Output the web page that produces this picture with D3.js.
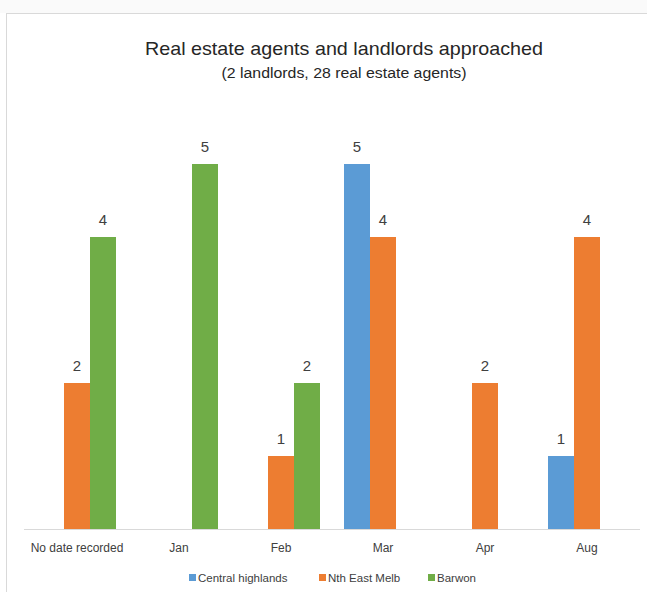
<!DOCTYPE html>
<html><head><meta charset="utf-8">
<script src="https://cdn.jsdelivr.net/npm/d3@7"></script>
<style>body{margin:0;background:#fff;}svg{display:block;}</style>
</head><body>
<script>
const categories = ["No date recorded","Jan","Feb","Mar","Apr","Aug"];
const seriesNames = ["Central highlands","Nth East Melb","Barwon"];
const centralHighlands = [0,0,0,5,0,1];
const nthEastMelb = [2,0,1,4,2,4];
const barwon = [4,5,2,0,0,0];
const colors = ["#5b9bd5","#ed7d31","#70ad47"];
const seriesValues = [centralHighlands, nthEastMelb, barwon];

const W = 647, H = 592;
const svg = d3.select("body").append("svg").attr("width", W).attr("height", H);
const font = "'Liberation Sans', Arial, sans-serif";

// chart frame
svg.append("rect").attr("x", 0).attr("y", 0).attr("width", W).attr("height", 13).attr("fill", "#fafafa");
svg.append("rect").attr("x", 6.5).attr("y", 13.5).attr("width", W + 10).attr("height", H + 10)
  .attr("fill", "#fff").attr("stroke", "#d9d9d9").attr("stroke-width", 1);

// title
svg.append("text").attr("x", 344).attr("y", 55).attr("text-anchor", "middle")
  .attr("font-family", font).attr("font-size", 19).attr("fill", "#262626")
  .attr("textLength", 398).attr("lengthAdjust", "spacingAndGlyphs")
  .text("Real estate agents and landlords approached");
svg.append("text").attr("x", 344).attr("y", 78).attr("text-anchor", "middle")
  .attr("font-family", font).attr("font-size", 14).attr("fill", "#262626")
  .attr("textLength", 245).attr("lengthAdjust", "spacingAndGlyphs")
  .text("(2 landlords, 28 real estate agents)");

const x0 = d3.scaleBand().domain(categories).range([26, 638]).paddingInner(0.236).paddingOuter(0.118);
const groupW = 78;
const x1 = d3.scaleBand().domain(seriesNames).range([0, groupW]);
const y = d3.scaleLinear().domain([0, 6]).range([529, 91]);

const g = svg.append("g");
categories.forEach((c, i) => {
  const cx = x0(c) + x0.bandwidth() / 2 - groupW / 2;
  seriesNames.forEach((s, j) => {
    const v = seriesValues[j][i];
    if (!v) return;
    g.append("rect").attr("x", cx + x1(s)).attr("y", y(v))
      .attr("width", x1.bandwidth()).attr("height", y(0) - y(v)).attr("fill", colors[j]);
    g.append("text").attr("x", cx + x1(s) + x1.bandwidth() / 2).attr("y", y(v) - 12)
      .attr("text-anchor", "middle").attr("font-family", font).attr("font-size", 15)
      .attr("fill", "#404040").text(v);
  });
});

// axis
const xAxis = d3.axisBottom(x0).tickSize(0).tickPadding(14);
const ax = svg.append("g").attr("transform", `translate(0,${y(0)})`).call(xAxis);
ax.select(".domain").attr("stroke", "#d9d9d9").attr("d", "M24,0.5H640");
ax.selectAll("text").attr("font-family", font).attr("font-size", 12).attr("fill", "#404040");

// legend
const legendX = [189, 319, 428];
seriesNames.forEach((s, j) => {
  svg.append("rect").attr("x", legendX[j]).attr("y", 574).attr("width", 7).attr("height", 7).attr("fill", colors[j]);
  svg.append("text").attr("x", legendX[j] + 9).attr("y", 582).attr("font-family", font)
    .attr("font-size", 11.5).attr("fill", "#404040").text(s);
});
</script>
</body></html>
